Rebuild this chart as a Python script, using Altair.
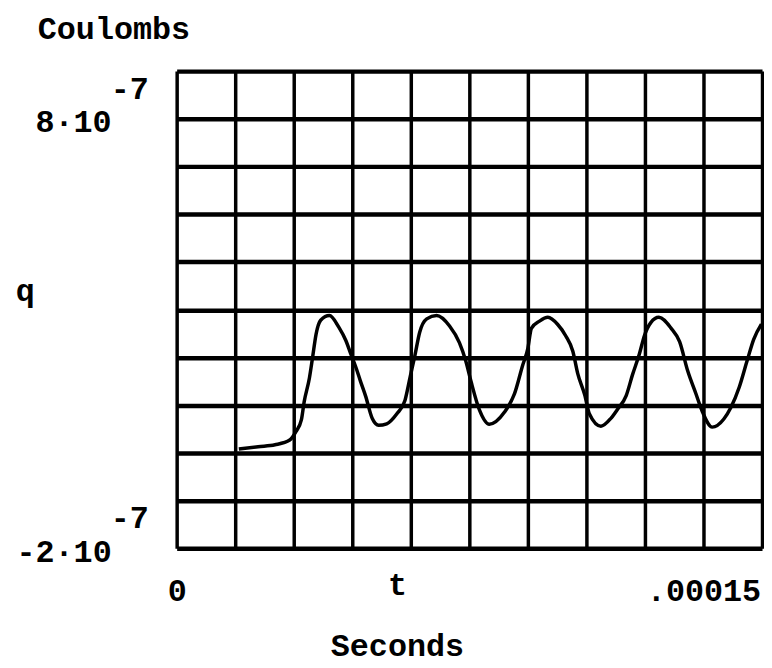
import altair as alt
import pandas as pd

# ---- data ----
t_seconds = [1.77e-5, 2.32e-5, 2.80e-5, 3.22e-5, 3.40e-5, 3.55e-5, 3.63e-5, 3.78e-5,
             3.87e-5, 3.97e-5, 4.10e-5, 4.35e-5, 4.62e-5, 4.82e-5, 4.95e-5, 5.10e-5,
             5.23e-5, 5.38e-5, 5.57e-5, 5.75e-5, 5.98e-5, 6.27e-5, 6.50e-5, 6.65e-5,
             6.78e-5, 6.92e-5, 7.12e-5, 7.40e-5, 7.77e-5, 8.05e-5, 8.23e-5, 8.38e-5,
             8.62e-5, 8.90e-5, 9.33e-5, 9.62e-5, 9.85e-5, 1.000e-4, 1.010e-4, 1.033e-4,
             1.057e-4, 1.085e-4, 1.108e-4, 1.128e-4, 1.142e-4, 1.162e-4, 1.175e-4, 1.208e-4,
             1.237e-4, 1.255e-4, 1.280e-4, 1.298e-4, 1.317e-4, 1.332e-4, 1.350e-4, 1.373e-4,
             1.407e-4, 1.432e-4, 1.455e-4, 1.478e-4, 1.497e-4, 1.525e-4, 1.558e-4, 1.578e-4,
             1.602e-4, 1.625e-4, 1.643e-4, 1.665e-4]
q_coulombs = [0.311e-7, 0.367e-7, 0.411e-7, 0.522e-7, 0.722e-7, 0.989e-7, 1.411e-7, 1.967e-7,
              2.444e-7, 2.989e-7, 3.311e-7, 3.422e-7, 3.144e-7, 2.833e-7, 2.544e-7, 2.222e-7,
              1.900e-7, 1.544e-7, 1.022e-7, 0.867e-7, 0.900e-7, 1.133e-7, 1.444e-7, 2.000e-7,
              2.478e-7, 3.033e-7, 3.344e-7, 3.422e-7, 3.178e-7, 2.789e-7, 2.367e-7, 1.889e-7,
              1.222e-7, 0.889e-7, 1.167e-7, 1.600e-7, 2.256e-7, 2.656e-7, 3.122e-7, 3.289e-7,
              3.378e-7, 3.211e-7, 2.944e-7, 2.589e-7, 2.067e-7, 1.567e-7, 1.133e-7, 0.844e-7,
              1.033e-7, 1.233e-7, 1.556e-7, 2.044e-7, 2.511e-7, 2.956e-7, 3.256e-7, 3.378e-7,
              3.133e-7, 2.811e-7, 2.133e-7, 1.611e-7, 1.178e-7, 0.822e-7, 1.011e-7, 1.278e-7,
              1.756e-7, 2.389e-7, 2.867e-7, 3.222e-7]

y_tick_values = [8e-7, -2e-7]
y_tick_mantissa = ["8·10", "-2·10"]
y_tick_exponent = ["-7", "-7"]
x_tick_values = [0.0, 1.5e-4]
x_tick_labels = ["0", ".00015"]

# plot range: ticks fall on grid line 9 of 10
t_max = 1.5e-4 * 10 / 9
q_min = -2e-7
q_max = -2e-7 + 10 * (1e-6 / 9)
x_grid = [k * t_max / 10 for k in range(11)]
y_grid = [q_min + k * (q_max - q_min) / 10 for k in range(11)]

FONT = "Liberation Mono"
FS = 32

curve = pd.DataFrame({"t": t_seconds, "q": q_coulombs})
exps = pd.DataFrame({"t": [0.0] * len(y_tick_values), "q": y_tick_values, "e": y_tick_exponent})

x_label_expr = (
    f"abs(datum.value - {x_tick_values[0]}) < 1e-10 ? '{x_tick_labels[0]}' : "
    f"abs(datum.value - {x_tick_values[1]}) < 1e-10 ? '{x_tick_labels[1]}' : ''"
)
y_label_expr = (
    f"abs(datum.value - ({y_tick_values[0]})) < 1e-12 ? '{y_tick_mantissa[0]}' : "
    f"abs(datum.value - ({y_tick_values[1]})) < 1e-12 ? '{y_tick_mantissa[1]}' : ''"
)

x_enc = alt.X(
    "t:Q",
    scale=alt.Scale(domain=[0, t_max], nice=False, zero=False),
    axis=alt.Axis(
        values=x_grid, grid=True, gridColor="black", gridWidth=3.5, gridOpacity=1,
        domain=False, ticks=False, labelExpr=x_label_expr, labelFont=FONT,
        labelFontSize=FS, labelFontWeight="bold", labelColor="black", labelPadding=28,
        labelFlush=False, labelOverlap=False, labelBound=False,
        title=["t", "Seconds"], titleFont=FONT, titleFontSize=FS, titleFontWeight="bold",
        titleColor="black", titleX=222, titleY=47, titleAlign="center",
        titleBaseline="alphabetic", titleLineHeight=61,
    ),
)
y_enc = alt.Y(
    "q:Q",
    scale=alt.Scale(domain=[q_min, q_max], nice=False, zero=False),
    axis=alt.Axis(
        values=y_grid, grid=True, gridColor="black", gridWidth=4.5, gridOpacity=1,
        domain=False, ticks=False, labelExpr=y_label_expr, labelFont=FONT,
        labelFontSize=FS, labelFontWeight="bold", labelColor="black", labelPadding=66,
        labelOverlap=False, labelBound=False, labelFlush=False, labelBaseline="middle",
        labelOffset=3,
        title="q", titleFont=FONT, titleFontSize=FS, titleFontWeight="bold",
        titleColor="black", titleAngle=0, titleX=-153, titleY=231, titleAlign="center",
        titleBaseline="alphabetic",
    ),
)

line = alt.Chart(curve).mark_line(
    color="black", strokeWidth=3.5, clip=True, interpolate="monotone"
).encode(x=x_enc, y=y_enc)

exponents = alt.Chart(exps).mark_text(
    align="right", baseline="middle", dx=-28, dy=-30, font=FONT, fontSize=FS,
    fontWeight="bold", color="black",
).encode(x="t:Q", y="q:Q", text="e:N")

chart = (
    alt.layer(line, exponents)
    .properties(
        width=590,
        height=481,
        autosize=alt.AutoSizeParams(type="none"),
        padding={"left": 170, "top": 61, "right": 2, "bottom": 118},
        title=alt.TitleParams(
            "Coulombs", anchor="start", frame="group", dx=-140, offset=12,
            font=FONT, fontSize=FS, fontWeight="bold", color="black",
        ),
    )
    .configure_view(stroke=None)
    .configure(background="white")
)

chart.save("out.html", embed_options={"renderer": "svg", "actions": False})
